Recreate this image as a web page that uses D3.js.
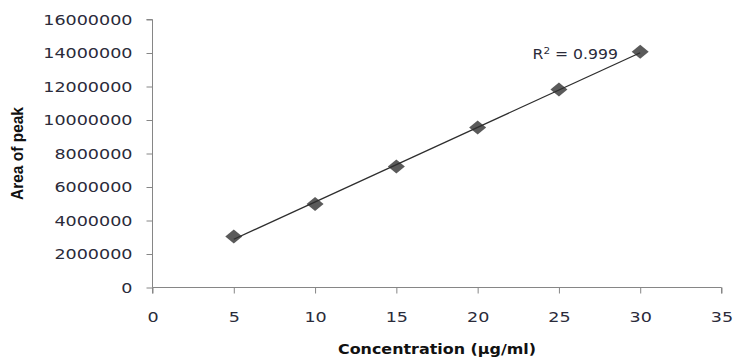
<!DOCTYPE html>
<html>
<head>
<meta charset="utf-8">
<script src="https://cdn.jsdelivr.net/npm/d3@7"></script>
<style>
  html, body { margin: 0; padding: 0; background: #fff; }
  svg { display: block; }
</style>
</head>
<body>
<script>
// ---- data ----
const concentration = [5, 10, 15, 20, 25, 30];
const peakArea = [3050000, 4980000, 7220000, 9550000, 11820000, 14070000];
const xTicks = [0, 5, 10, 15, 20, 25, 30, 35];
const yTicks = [0, 2000000, 4000000, 6000000, 8000000, 10000000, 12000000, 14000000, 16000000];
const r2Label = "0.999";
const xTitle = "Concentration (µg/ml)";
const yTitle = "Area of peak";

const W = 734, H = 358;
const svg = d3.select("body").append("svg").attr("width", W).attr("height", H);

const x = d3.scaleLinear().domain([0, 35]).range([152.5, 721.5]);
const y = d3.scaleLinear().domain([0, 16000000]).range([287.5, 19.5]);

const axisColor = "#868686";
const textColor = "#2b2b3a";
const tickFont = "'DejaVu Sans', Verdana, sans-serif";

// Y axis
const gy = svg.append("g").attr("transform", `translate(${x(0)},0)`)
  .call(d3.axisLeft(y).tickValues(yTicks).tickSize(6).tickPadding(0).tickFormat(d3.format("d")));
gy.select(".domain").attr("stroke", axisColor).attr("d", `M-6,${y(16000000)}H0V${y(0)}`);
gy.selectAll(".tick line").attr("stroke", axisColor);
gy.selectAll(".tick text")
  .attr("x", -15.4).attr("dy", "0.36em")
  .attr("transform", "scale(1.3,1)")
  .attr("fill", textColor)
  .style("font-family", tickFont).style("font-size", "13.5px");

// X axis
const gx = svg.append("g").attr("transform", `translate(0,${y(0)})`)
  .call(d3.axisBottom(x).tickValues(xTicks).tickSize(6).tickPadding(0));
gx.select(".domain").attr("stroke", axisColor).attr("d", `M${x(0)},6V0H${x(35)}V6`);
gx.selectAll(".tick line").attr("stroke", axisColor);
gx.selectAll(".tick text")
  .attr("y", 34.5).attr("dy", 0)
  .attr("transform", "scale(1.3,1)")
  .attr("fill", textColor)
  .style("font-family", tickFont).style("font-size", "13.5px");

// Linear regression trendline
const n = concentration.length;
const mx = d3.mean(concentration), my = d3.mean(peakArea);
let sxy = 0, sxx = 0;
for (let i = 0; i < n; i++) {
  sxy += (concentration[i] - mx) * (peakArea[i] - my);
  sxx += (concentration[i] - mx) ** 2;
}
const slope = sxy / sxx, intercept = my - slope * mx;
const xMin = d3.min(concentration), xMax = d3.max(concentration);

// markers
const hw = 8.5, hh = 7;
svg.append("g").selectAll("path")
  .data(concentration.map((c, i) => ({ c, a: peakArea[i] })))
  .join("path")
  .attr("transform", d => `translate(${x(d.c)},${y(d.a)})`)
  .attr("d", `M0,${-hh}L${hw},0L0,${hh}L${-hw},0Z`)
  .attr("fill", "#5a5a5a");

svg.append("line")
  .attr("x1", x(xMin)).attr("y1", y(slope * xMin + intercept))
  .attr("x2", x(xMax)).attr("y2", y(slope * xMax + intercept))
  .attr("stroke", "#2e2e2e").attr("stroke-width", 1.3);

// R² label
const r2 = svg.append("text")
  .attr("transform", `translate(532.5,59) scale(1.16,1)`)
  .attr("fill", textColor)
  .style("font-family", tickFont).style("font-size", "13.5px");
r2.append("tspan").text("R");
r2.append("tspan").attr("dy", -5).style("font-size", "9px").text("2");
r2.append("tspan").attr("dy", 5).text(" = " + r2Label);

// Titles
svg.append("text")
  .attr("transform", `translate(${(x(0) + x(35)) / 2},354) scale(1.18,1)`)
  .attr("text-anchor", "middle")
  .attr("fill", "#111")
  .style("font-family", tickFont).style("font-weight", "bold").style("font-size", "13.5px")
  .text(xTitle);

svg.append("text")
  .attr("transform", `translate(23,153.5) scale(1.05,1) rotate(-90)`)
  .attr("text-anchor", "middle")
  .attr("fill", "#111")
  .style("font-family", "'Liberation Sans', Arial, sans-serif").style("font-weight", "bold").style("font-size", "15.5px")
  .text(yTitle);
</script>
</body>
</html>
